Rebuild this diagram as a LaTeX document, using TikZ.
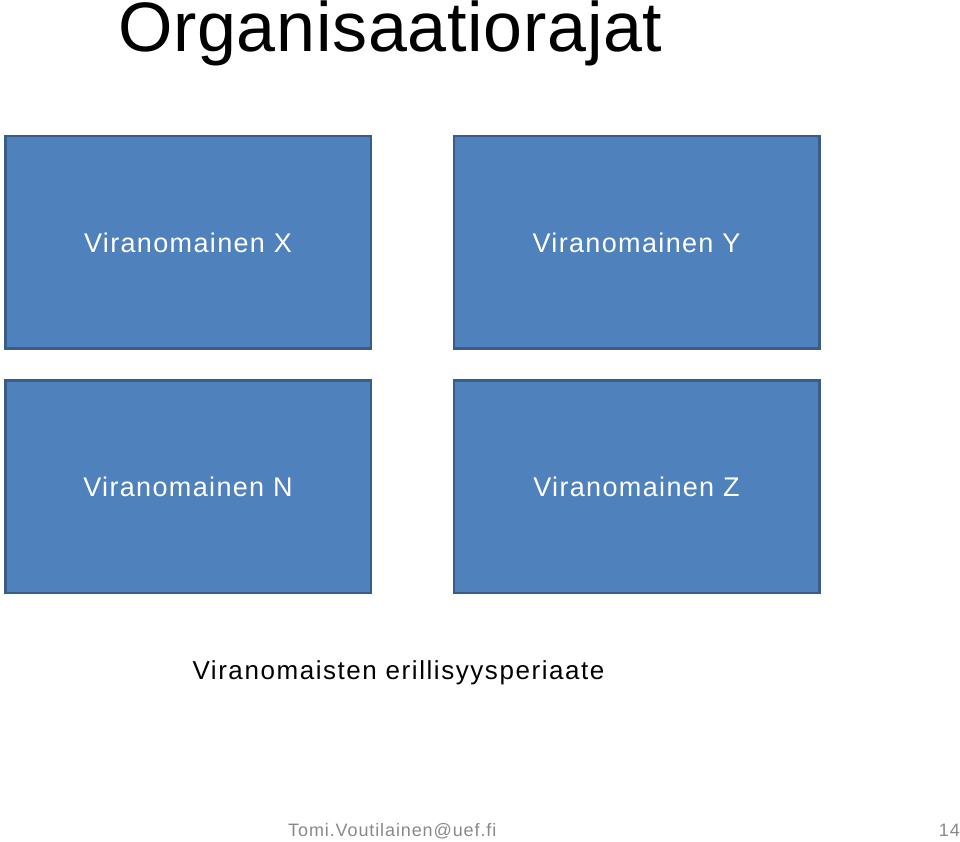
\documentclass[tikz,border=0pt]{standalone}
\usepackage{fontspec}
\setmainfont{Liberation Sans}
\usepackage{tikz}
\definecolor{boxfill}{HTML}{4F81BD}
\definecolor{boxline}{HTML}{385D8A}
\definecolor{footgray}{HTML}{898989}
\tikzset{
    agency/.style={draw=boxline, line width=2.5pt, fill=boxfill, text=white,
        minimum width=365.5pt, minimum height=212.5pt, inner sep=0pt,
        font=\fontsize{27}{30}\selectfont\addfontfeatures{LetterSpace=5}},
    foot/.style={text=footgray, inner sep=0pt,
        font=\fontsize{18}{20}\selectfont\addfontfeatures{LetterSpace=5}}
}
\begin{document}
\begin{tikzpicture}[x=1pt, y=1pt]
    \useasboundingbox (0,0) rectangle (960,842);

    % Title
    \node[anchor=base west, inner sep=0pt, font=\fontsize{70}{80}\selectfont\addfontfeatures{LetterSpace=1}] (title) at (118,790) {Organisaatiorajat};

    % Authorities
    \node[agency] (authX) at (188,599.5) {Viranomainen X};
    \node[agency] (authY) at (636.5,599.5) {Viranomainen Y};
    \node[agency] (authN) at (188,355) {Viranomainen N};
    \node[agency] (authZ) at (636.5,355) {Viranomainen Z};

    % Principle
    \node[anchor=base, inner sep=0pt, font=\fontsize{26}{30}\selectfont\addfontfeatures{LetterSpace=6}] (principle) at (398.5,162) {Viranomaisten erillisyysperiaate};

    % Footer
    \node[foot, anchor=base west] (mail) at (288,5) {Tomi.Voutilainen@uef.fi};
    \node[foot, anchor=base east] (page) at (960,5) {14};
\end{tikzpicture}
\end{document}
